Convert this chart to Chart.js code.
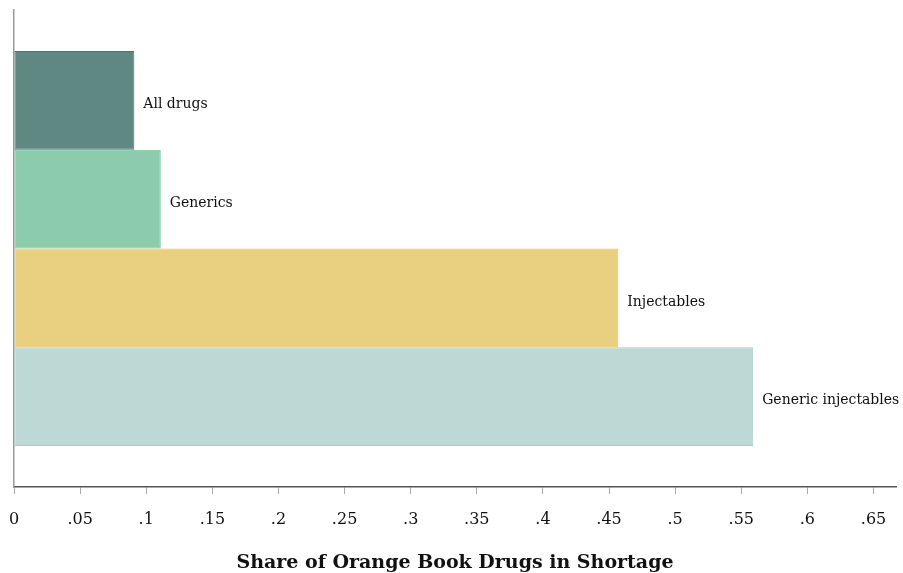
<!DOCTYPE html>
<html>
<head>
<meta charset="utf-8">
<script src="https://cdn.jsdelivr.net/npm/chart.js@4"></script>
<style>
  html, body { margin: 0; padding: 0; background: #fff; }
  #wrap { width: 903px; height: 573px; }
</style>
</head>
<body>
<div id="wrap"><canvas id="shortageChart" width="903" height="573"></canvas></div>
<script>
const groups = ["All drugs", "Generics", "Injectables", "Generic injectables"];
const shares = [0.091, 0.111, 0.457, 0.559];
const fillColors = ["#5f8883", "#8ccbac", "#e9cf80", "#bcd9d5"];
const edgeColors = ["#4b726d", "#78c39e", "#e5c55a", "#a5d0c9"];
const tickValues = [0, 0.05, 0.1, 0.15, 0.2, 0.25, 0.3, 0.35, 0.4, 0.45, 0.5, 0.55, 0.6, 0.65];

const serif = "'DejaVu Serif', 'Liberation Serif', serif";

// one dataset per group so the bars sit flush against each other
const datasets = groups.map(function (g, i) {
  return {
    label: g,
    data: [shares[i]],
    backgroundColor: fillColors[i],
    borderColor: edgeColors[i],
    borderWidth: 1,
    borderSkipped: false,
    barPercentage: 1,
    categoryPercentage: 0.828,
  };
});

// writes the group name just past the end of each bar
const endLabels = {
  id: "endLabels",
  afterDatasetsDraw(chart) {
    const ctx = chart.ctx;
    ctx.save();
    ctx.font = "14px " + serif;
    ctx.fillStyle = "#111";
    ctx.textBaseline = "middle";
    chart.data.datasets.forEach(function (ds, i) {
      const bar = chart.getDatasetMeta(i).data[0];
      ctx.fillText(ds.label, bar.x + 9, bar.y + 4);
    });
    ctx.restore();
  },
};

const config = {
  type: "bar",
  data: { labels: [""], datasets: datasets },
  plugins: [endLabels],
  options: {
    indexAxis: "y",
    responsive: false,
    animation: false,
    layout: { padding: { top: 10, right: 7, left: 0, bottom: 0 } },
    plugins: {
      legend: { display: false },
      tooltip: { enabled: false },
    },
    scales: {
      x: {
        min: 0,
        max: 0.667,
        afterBuildTicks: function (scale) {
          scale.ticks = tickValues.map(function (v) { return { value: v }; });
        },
        afterFit: function (scale) {
          scale.height = 86;
          scale.paddingLeft = 0;
          scale.paddingRight = 0;
        },
        border: { color: "#555", width: 1.5 },
        grid: { drawOnChartArea: false, drawTicks: true, tickLength: 7, color: "#aaa" },
        ticks: {
          color: "#111",
          padding: 16,
          font: { family: serif, size: 16 },
          callback: function (v) {
            if (v === 0) return "0";
            return (Math.round(v * 100) / 100).toString().replace(/^0/, "");
          },
        },
        title: {
          display: true,
          text: "Share of Orange Book Drugs in Shortage",
          color: "#111",
          font: { family: serif, size: 19, weight: "bold", lineHeight: 1 },
          padding: { top: 0, bottom: 0 },
        },
      },
      y: {
        afterFit: function (scale) { scale.width = 14; },
        border: { color: "#999", width: 1.5 },
        grid: { display: false },
        ticks: { display: false },
      },
    },
  },
};

const myChart = new Chart(document.getElementById("shortageChart"), config);
</script>
</body>
</html>
